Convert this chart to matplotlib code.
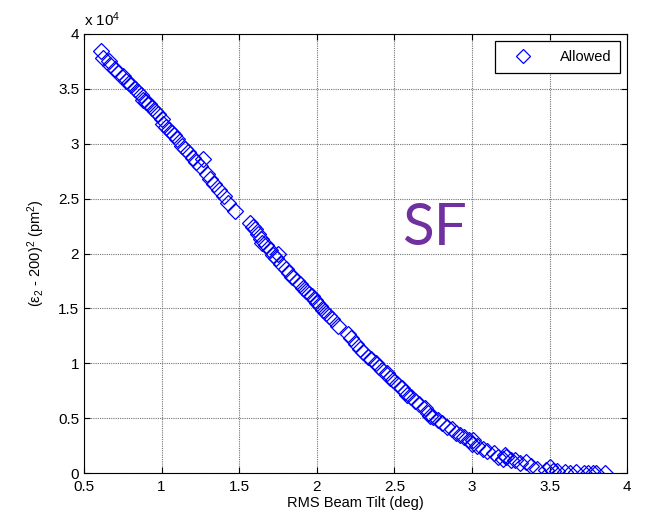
import matplotlib.pyplot as plt
from matplotlib.ticker import FuncFormatter

plt.rcParams['font.family'] = ['Liberation Sans', 'DejaVu Sans']
plt.rcParams['mathtext.fontset'] = 'custom'
plt.rcParams['mathtext.rm'] = 'Liberation Sans'
plt.rcParams['mathtext.it'] = 'Liberation Sans:italic'

# beam tilt (deg) and (eps2 - 200)^2 (pm^2)
tilt = [0.61, 0.62, 0.66, 0.67, 0.70, 0.72, 0.75, 0.77, 0.79, 0.80,
        0.83, 0.85, 0.87, 0.88, 0.90, 0.92, 0.94, 0.96, 0.98, 1.00,
        1.01, 1.03, 1.05, 1.07, 1.08, 1.10, 1.13, 1.15, 1.17, 1.20,
        1.22, 1.25, 1.27, 1.29, 1.31, 1.34, 1.37, 1.40, 1.43, 1.47,
        1.57, 1.59, 1.60, 1.62, 1.64, 1.65, 1.67, 1.70, 1.72, 1.74,
        1.75, 1.77, 1.80, 1.82, 1.84, 1.87, 1.89, 1.91, 1.93, 1.95,
        1.97, 1.99, 2.00, 2.02, 2.04, 2.06, 2.08, 2.10, 2.14, 2.20,
        2.22, 2.25, 2.28, 2.30, 2.33, 2.35, 2.38, 2.40, 2.42, 2.45,
        2.47, 2.49, 2.52, 2.55, 2.57, 2.58, 2.61, 2.63, 2.66, 2.70,
        2.72, 2.73, 2.75, 2.78, 2.81, 2.84, 2.87, 2.90, 2.92, 2.95,
        2.98, 3.00, 3.01, 3.03, 3.07, 3.10, 3.14, 3.17, 3.20, 3.21,
        3.22, 3.25, 3.28, 3.31, 3.35, 3.38, 3.42, 3.48, 3.50, 3.52,
        3.55, 3.60, 3.63, 3.67, 3.72, 3.75, 3.78, 3.80, 3.86]
eps = [3.84, 3.78, 3.75, 3.72, 3.68, 3.64, 3.62, 3.57, 3.55, 3.53,
       3.50, 3.47, 3.44, 3.40, 3.38, 3.36, 3.32, 3.30, 3.27, 3.22,
       3.18, 3.15, 3.12, 3.10, 3.08, 3.04, 2.98, 2.95, 2.92, 2.87,
       2.83, 2.80, 2.86, 2.72, 2.68, 2.63, 2.58, 2.52, 2.46, 2.39,
       2.28, 2.24, 2.22, 2.18, 2.13, 2.10, 2.08, 2.03, 1.99, 1.96,
       2.00, 1.90, 1.86, 1.82, 1.79, 1.75, 1.72, 1.69, 1.66, 1.63,
       1.61, 1.58, 1.55, 1.52, 1.49, 1.46, 1.43, 1.40, 1.34, 1.27,
       1.23, 1.18, 1.13, 1.10, 1.06, 1.04, 1.00, 0.97, 0.94, 0.91,
       0.87, 0.85, 0.81, 0.78, 0.74, 0.71, 0.69, 0.66, 0.63, 0.59,
       0.55, 0.52, 0.51, 0.48, 0.46, 0.42, 0.40, 0.37, 0.35, 0.33,
       0.30, 0.27, 0.30, 0.25, 0.22, 0.20, 0.18, 0.15, 0.13, 0.17,
       0.15, 0.12, 0.12, 0.09, 0.10, 0.07, 0.04, 0.03, 0.06, 0.02,
       0.02, 0.01, 0.00, 0.01, 0.00, 0.00, 0.00, 0.00, 0.00]
eps = [e * 1e4 for e in eps]

xticks = [0.5, 1, 1.5, 2, 2.5, 3, 3.5, 4]
yticks = [0, 5000, 10000, 15000, 20000, 25000, 30000, 35000, 40000]

fig = plt.figure(figsize=(6.56, 5.2), dpi=100)
ax = fig.add_axes([0.128, 0.090, 0.828, 0.845])

ax.plot(tilt, eps, linestyle='none', marker='D', markersize=8.5,
        markerfacecolor='none', markeredgecolor='#0000ff', markeredgewidth=0.9,
        label='Allowed')

ax.set_xlim(0.5, 4)
ax.set_ylim(0, 40000)
ax.set_xticks(xticks)
ax.set_yticks(yticks)
ax.xaxis.set_major_formatter(FuncFormatter(lambda v, p: '%g' % v))
ax.yaxis.set_major_formatter(FuncFormatter(lambda v, p: '%g' % (v / 1e4)))
ax.tick_params(direction='in', top=True, right=True, labelsize=11, length=4, width=0.8)
ax.tick_params(axis='x', pad=5)
ax.grid(True, linestyle=(0, (1, 1)), color='0.45', linewidth=0.8)
for s in ax.spines.values():
    s.set_linewidth(0.8)

ax.set_xlabel('RMS Beam Tilt (deg)', fontsize=10.5, labelpad=1)
ax.set_ylabel('(ε$_2$ - 200)$^2$ (pm$^2$)', fontsize=10.5, labelpad=8)
ax.text(0.0, 1.012, 'x 10$^4$', transform=ax.transAxes, fontsize=11, ha='left', va='bottom')

ax.text(0.586, 0.519, 'SF', transform=ax.transAxes, fontsize=42,
        color='#7030a0', family=['Lato', 'DejaVu Sans'], ha='left', va='baseline')

leg = ax.legend(loc='upper right', fontsize=10.5, fancybox=False, framealpha=1,
                edgecolor='black', borderaxespad=0.5, handlelength=2.6,
                borderpad=0.6, handletextpad=1.2, markerscale=0.8)
leg.get_frame().set_linewidth(0.9)

fig.savefig('out.png', dpi=100)
